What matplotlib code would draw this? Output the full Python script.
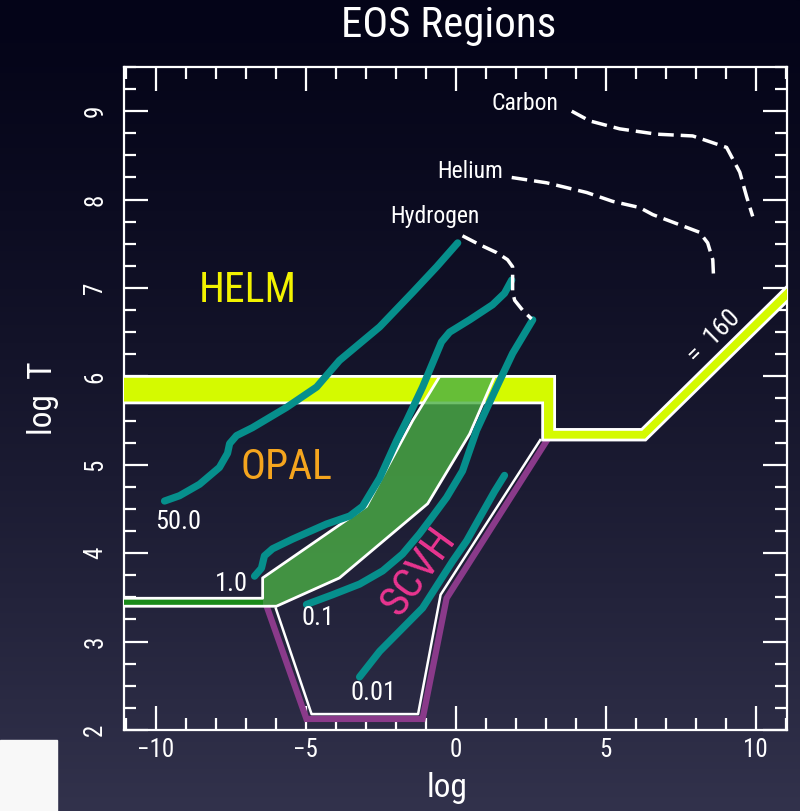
import matplotlib
matplotlib.use('Agg')
import matplotlib.pyplot as plt
from matplotlib.ticker import MultipleLocator
import numpy as np

plt.rcParams['font.family'] = ['Roboto Condensed', 'PT Sans Narrow', 'Archivo Narrow',
                               'Fira Sans Condensed', 'Liberation Sans Narrow', 'DejaVu Sans']

# degeneracy contours (log rho, log T)
rho_50 = [-9.7, -9.2, -8.53, -7.87, -7.6, -7.53, -7.3, -6.77, -5.63, -4.63, -3.87, -2.53, -1.43, -0.63, 0.07]
T_50 = [4.59, 4.65, 4.78, 4.97, 5.13, 5.24, 5.33, 5.42, 5.65, 5.88, 6.18, 6.56, 6.95, 7.24, 7.51]
rho_1 = [-6.7, -6.47, -6.37, -6.1, -5.43, -4.3, -3.53, -3.1, -2.53, -1.97, -1.63, -1.1, -0.47, -0.2, 0.47, 1.23, 1.63, 1.87]
T_1 = [3.74, 3.83, 3.97, 4.05, 4.16, 4.33, 4.42, 4.53, 4.85, 5.27, 5.5, 5.88, 6.39, 6.5, 6.64, 6.81, 6.94, 7.09]
rho_01 = [-4.97, -4.1, -3.2, -2.43, -1.77, -1.2, -0.8, -0.3, 0.23, 0.7, 1.37, 1.9, 2.57]
T_01 = [3.42, 3.53, 3.65, 3.80, 3.99, 4.22, 4.40, 4.63, 4.93, 5.39, 5.88, 6.26, 6.64]
rho_001 = [-3.2, -2.53, -1.1, -0.1, 0.37, 0.8, 1.3, 1.63]
T_001 = [2.60, 2.89, 3.38, 3.91, 4.14, 4.40, 4.70, 4.88]
contour_labels = ['50.0', '1.0', '0.1', '0.01']
contour_label_pos = [(-9.23, 4.35), (-7.47, 3.65), (-4.57, 3.27), (-2.73, 2.42)]

# ionization lines
rho_H = [0.23, 0.8, 1.37, 1.73, 1.9, 1.9, 1.97, 2.23, 2.53]
T_H = [7.59, 7.49, 7.40, 7.32, 7.24, 6.95, 6.86, 6.75, 6.65]
rho_He = [1.87, 3.03, 4.37, 5.23, 6.13, 6.57, 8.13, 8.4, 8.57, 8.6]
T_He = [8.25, 8.19, 8.08, 7.98, 7.91, 7.83, 7.63, 7.51, 7.32, 7.09]
rho_C = [3.87, 4.47, 5.47, 6.7, 7.9, 9.03, 9.47, 9.7, 9.9]
T_C = [9.0, 8.89, 8.8, 8.74, 8.72, 8.59, 8.31, 8.03, 7.81]
ion_labels = ['Hydrogen', 'Helium', 'Carbon']
ion_label_pos = [(-0.7, 7.81), (0.47, 8.32), (2.3, 9.09)]

# HELM band edges
helm_top_x = [-11.5, 3.3, 3.3, 6.2, 11.5]
helm_top_y = [6.0, 6.0, 5.40, 5.40, 7.17]
helm_bot_x = [-11.5, 2.9, 2.9, 6.33, 11.5]
helm_bot_y = [5.7, 5.7, 5.28, 5.28, 7.0]

# OPAL region outline (from the left edge round to the left edge)
opal_x = [-11.5, -6.43, -6.43, -2.97, -1.43, -0.53, 1.3, 0.47, -0.93, -3.87, -5.97, -11.5]
opal_y = [3.49, 3.49, 3.72, 4.53, 5.5, 6.0, 6.0, 5.35, 4.56, 3.72, 3.40, 3.40]
opal_band_x = [-11.5, -6.43]
opal_band_lo = 3.41
opal_band_hi = 3.48

# SCVH boundary
scvh_outer_x = [-6.27, -4.97, -1.1, -0.3, 3.05]
scvh_outer_y = [3.375, 2.125, 2.125, 3.49, 5.28]
scvh_inner_x = [-5.99, -4.8, -1.25, -0.5, 2.82]
scvh_inner_y = [3.375, 2.18, 2.18, 3.53, 5.28]

fig = plt.figure(figsize=(8, 8.11), dpi=100)
fig.patch.set_facecolor('#05051a')

# dark gradient backdrop
bg = fig.add_axes([0, 0, 1, 1], zorder=-10)
t = np.linspace(0, 1, 400)[:, None] ** 1.3
top = np.array([4, 4, 24]) / 255
bot = np.array([50, 50, 76]) / 255
grad = top[None, None, :] * (1 - t[..., None]) + bot[None, None, :] * t[..., None]
bg.imshow(grad, aspect='auto', extent=[0, 1, 0, 1], origin='upper')
bg.add_patch(plt.Rectangle((0, 0), 57 / 800, 71 / 811, color='#f8f8f8'))
bg.set_xlim(0, 1)
bg.set_ylim(0, 1)
bg.axis('off')

ax = fig.add_axes([0.155, 0.0999, 0.829, 0.8175])
ax.set_facecolor('none')
ax.set_xlim(-11.05, 11.05)
ax.set_ylim(2, 9.5)

# SCVH
ax.plot(scvh_outer_x, scvh_outer_y, color='#8a3a8a', lw=4.5, zorder=2, solid_joinstyle='miter')
ax.plot(scvh_inner_x, scvh_inner_y, color='white', lw=1.8, zorder=2.1)

# HELM band
helm_x = helm_top_x + helm_bot_x[::-1]
helm_y = helm_top_y + helm_bot_y[::-1]
ax.fill(helm_x, helm_y, facecolor='#d4fa00', edgecolor='white', lw=2, zorder=3)

# OPAL
ax.fill(opal_x, opal_y, facecolor=(75 / 255, 175 / 255, 69 / 255, 0.8), edgecolor='none', zorder=4)
ax.fill_between(opal_band_x, opal_band_lo, opal_band_hi, color='#1a8a1a', lw=0, zorder=4.1)
ax.plot(opal_x, opal_y, color='white', lw=2, zorder=4.2)

# degeneracy contours
for xs, ys in [(rho_50, T_50), (rho_1, T_1), (rho_01, T_01), (rho_001, T_001)]:
    ax.plot(xs, ys, color='#068f8c', lw=5.2, solid_capstyle='round', solid_joinstyle='round', zorder=5)
for lab, (x, y) in zip(contour_labels, contour_label_pos):
    ax.text(x, y, lab, color='white', fontsize=19, ha='center', va='center', zorder=6)

# ionization
for xs, ys in [(rho_H, T_H), (rho_He, T_He), (rho_C, T_C)]:
    ax.plot(xs, ys, color='white', lw=2.5, dashes=(4.5, 2), zorder=5)
for lab, (x, y) in zip(ion_labels, ion_label_pos):
    ax.text(x, y, lab, color='white', fontsize=17, ha='center', va='center', zorder=6)

ax.text(-6.93, 6.97, 'HELM', color='#f2f200', fontsize=30, ha='center', va='center', zorder=6)
ax.text(-5.63, 4.97, 'OPAL', color='#f5a51e', fontsize=30, ha='center', va='center', zorder=6)
ax.text(-1.25, 3.79, 'SCVH', color='#ea3590', fontsize=31, ha='center', va='center',
        rotation=54, rotation_mode='anchor', zorder=6)

# slope of the coupling line in screen space
p0 = ax.transData.transform((6.2, 5.4))
p1 = ax.transData.transform((11.0, 7.0))
ang = np.degrees(np.arctan2(p1[1] - p0[1], p1[0] - p0[0]))
ax.text(8.6, 6.45, '=  160', color='white', fontsize=19, ha='center', va='center',
        rotation=ang, rotation_mode='anchor', zorder=6)

for s in ax.spines.values():
    s.set_color('white')
    s.set_linewidth(1.6)
ax.xaxis.set_major_locator(MultipleLocator(5))
ax.xaxis.set_minor_locator(MultipleLocator(1))
ax.yaxis.set_major_locator(MultipleLocator(1))
ax.yaxis.set_minor_locator(MultipleLocator(0.25))
ax.tick_params(which='both', direction='in', top=True, right=True, color='white', width=1.6,
               labelcolor='white', labelsize=18)
ax.tick_params(which='major', length=17)
ax.tick_params(which='minor', length=8.5)
ax.tick_params(axis='x', pad=6)
ax.tick_params(axis='y', labelrotation=90, pad=12)
for lb in ax.get_yticklabels():
    lb.set_verticalalignment('center')

ax.set_xlabel('log', color='white', fontsize=24)
ax.xaxis.set_label_coords(0.487, -0.063)
ax.set_ylabel('log  T', color='white', fontsize=24)
ax.yaxis.set_label_coords(-0.098, 0.5)

fig.text(449 / 800, 1 - 25 / 811, 'EOS Regions', color='white', fontsize=31, ha='center', va='center')

fig.savefig('out.png', dpi=100, facecolor=fig.get_facecolor())
